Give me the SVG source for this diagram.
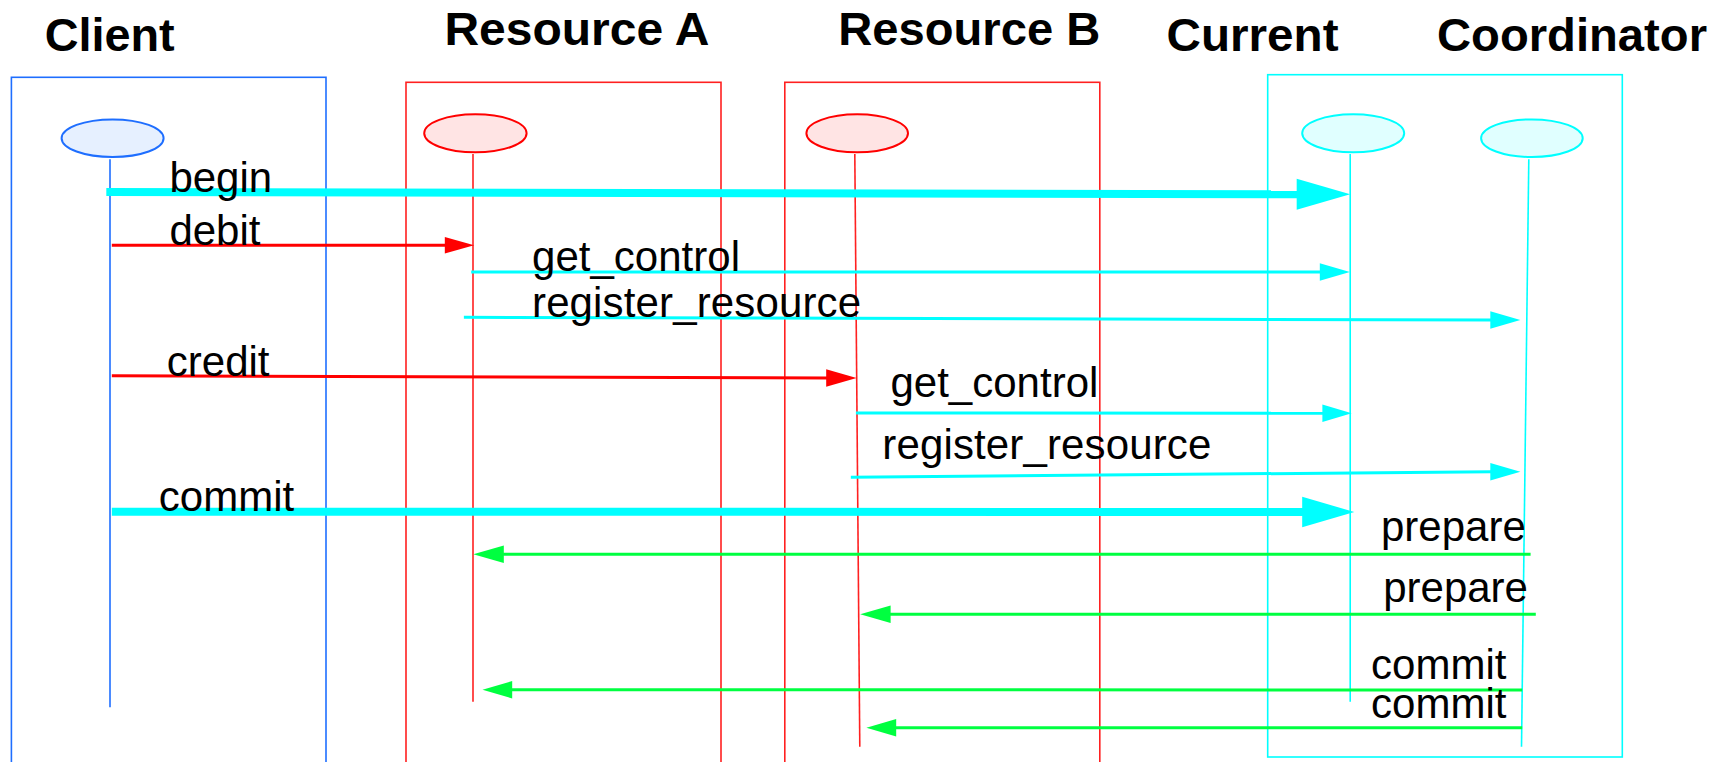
<svg xmlns="http://www.w3.org/2000/svg" width="1725" height="762" viewBox="0 0 1725 762">
<style>
.title{font-family:"Liberation Sans",Arial,sans-serif;font-weight:bold;font-size:47px;fill:#000}
.lbl{font-family:"Liberation Sans",Arial,sans-serif;font-size:42px;fill:#000}
.box{fill:none;stroke-width:1.6}
.life{fill:none;stroke-width:1.6}
.blue{stroke:#1e6eff}
.red{stroke:#ff2020}
.cyan{stroke:#00ffff}
.thin{fill:none;stroke-width:3}
.thick{fill:none;stroke-width:8}
.hc{fill:#00ffff}
.hr{fill:#ff0000}
.hg{fill:#00ff40}
</style>
<rect width="1725" height="762" fill="#fff"/>
<g id="node-client">
<text class="title" x="44.7" y="51" textLength="130" lengthAdjust="spacingAndGlyphs">Client</text>
<rect class="box blue" x="11.4" y="77.3" width="314.6" height="720"/>
<ellipse cx="112.6" cy="138.2" rx="51" ry="18.8" fill="#e6f0ff" stroke="#1e6eff" stroke-width="2"/>
<line class="life blue" x1="110" y1="159.3" x2="110" y2="707.3"/>
</g>
<g id="node-resource-a">
<text class="title" x="444.4" y="45" textLength="265" lengthAdjust="spacingAndGlyphs">Resource A</text>
<rect class="box red" x="406" y="82.3" width="315" height="720"/>
<ellipse cx="475.4" cy="133.3" rx="51.2" ry="19" fill="#ffe4e4" stroke="#ff0000" stroke-width="2"/>
<line class="life red" x1="473" y1="154" x2="473" y2="701.7"/>
</g>
<g id="node-resource-b">
<text class="title" x="838.3" y="45" textLength="262" lengthAdjust="spacingAndGlyphs">Resource B</text>
<rect class="box red" x="784.8" y="82.3" width="315" height="720"/>
<ellipse cx="857.2" cy="133.3" rx="50.8" ry="19" fill="#ffe4e4" stroke="#ff0000" stroke-width="2"/>
<line class="life red" x1="854.8" y1="154" x2="859.8" y2="746.7"/>
</g>
<g id="group-transaction-service">
<rect class="box cyan" x="1267.7" y="74.7" width="354.6" height="682.3"/>
</g>
<g id="node-current">
<text class="title" x="1166.5" y="51" textLength="172" lengthAdjust="spacingAndGlyphs">Current</text>
<ellipse cx="1353.2" cy="133.3" rx="51" ry="19" fill="#e0ffff" stroke="#00ffff" stroke-width="2"/>
<line class="life cyan" x1="1350.2" y1="154" x2="1350.2" y2="701.7"/>
</g>
<g id="node-coordinator">
<text class="title" x="1437" y="51" textLength="270" lengthAdjust="spacingAndGlyphs">Coordinator</text>
<ellipse cx="1531.9" cy="138.2" rx="50.8" ry="18.8" fill="#e0ffff" stroke="#00ffff" stroke-width="2"/>
<line class="life cyan" x1="1528.8" y1="159.3" x2="1521.5" y2="746.7"/>
</g>
<g id="connectors">
<line class="thick" stroke="#00ffff" x1="106.3" y1="192" x2="1298" y2="194.2"/>
<polygon class="hc" points="1296.7,178.7 1350.2,194.3 1296.7,209.7"/>
<line class="thin" stroke="#ff0000" x1="111.8" y1="245.3" x2="446" y2="245.3"/>
<polygon class="hr" points="444.8,237 474.1,245.3 444.8,253.6"/>
<line class="thin" stroke="#00ffff" x1="471.2" y1="272" x2="1321" y2="272"/>
<polygon class="hc" points="1319.8,263.3 1349.9,272 1319.8,280.7"/>
<line class="thin" stroke="#00ffff" x1="463.9" y1="317.3" x2="1491.5" y2="320"/>
<polygon class="hc" points="1490.3,311.3 1520.4,320 1490.3,328.7"/>
<line class="thin" stroke="#ff0000" x1="111.8" y1="375.7" x2="827.4" y2="378"/>
<polygon class="hr" points="826.2,369.3 856.6,378 826.2,386.7"/>
<line class="thin" stroke="#00ffff" x1="855.9" y1="413" x2="1323.6" y2="413.3"/>
<polygon class="hc" points="1322.4,404.6 1351.7,413.3 1322.4,422"/>
<line class="thin" stroke="#00ffff" x1="850.8" y1="477.3" x2="1491.5" y2="471.7"/>
<polygon class="hc" points="1490.3,463 1520.4,471.7 1490.3,480.4"/>
<line class="thick" stroke="#00ffff" x1="111.8" y1="511.7" x2="1303.5" y2="512"/>
<polygon class="hc" points="1302.2,496.7 1354.3,512 1302.2,527.3"/>
<line class="thin" stroke="#00ff40" x1="1530.6" y1="554.3" x2="502.6" y2="554.3"/>
<polygon class="hg" points="503.8,545.6 473.3,554.3 503.8,563"/>
<line class="thin" stroke="#00ff40" x1="1535.8" y1="614.3" x2="889.4" y2="614.3"/>
<polygon class="hg" points="890.6,605.6 860.2,614.3 890.6,623"/>
<line class="thin" stroke="#00ff40" x1="1522.2" y1="690" x2="511" y2="689.7"/>
<polygon class="hg" points="512.2,681 482.5,689.7 512.2,698.4"/>
<line class="thin" stroke="#00ff40" x1="1522.2" y1="727.7" x2="895" y2="727.7"/>
<polygon class="hg" points="896.2,719 866.4,727.7 896.2,736.4"/>
</g>
<g id="labels">
<text class="lbl" x="169.4" y="192">begin</text>
<text class="lbl" x="169.4" y="245">debit</text>
<text class="lbl" x="532" y="271" textLength="208">get_control</text>
<text class="lbl" x="532" y="317" textLength="329">register_resource</text>
<text class="lbl" x="166.8" y="376">credit</text>
<text class="lbl" x="890.4" y="397" textLength="208">get_control</text>
<text class="lbl" x="882.3" y="458.5" textLength="329">register_resource</text>
<text class="lbl" x="158.8" y="511">commit</text>
<text class="lbl" x="1381" y="541">prepare</text>
<text class="lbl" x="1383.2" y="602">prepare</text>
<text class="lbl" x="1371.1" y="679">commit</text>
<text class="lbl" x="1371.1" y="717.5">commit</text>
</g>
</svg>
